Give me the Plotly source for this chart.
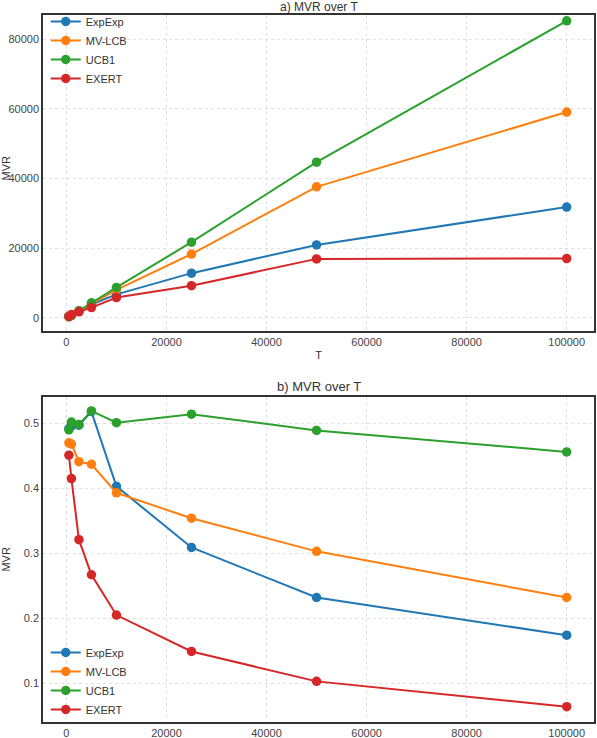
import plotly.graph_objects as go

T = [500, 1000, 2500, 5000, 10000, 25000, 50000, 100000]
methods = ["ExpExp", "MV-LCB", "UCB1", "EXERT"]
colors = ["#1f77b4", "#ff7f0e", "#2ca02c", "#d62728"]

cum_expexp = [300, 600, 1900, 3800, 6700, 12800, 20900, 31800]
cum_mvlcb = [300, 600, 1900, 3900, 8000, 18300, 37600, 59100]
cum_ucb1 = [300, 650, 2000, 4300, 8700, 21700, 44700, 85300]
cum_exert = [400, 900, 1700, 2900, 5800, 9200, 16900, 17000]

mvr_expexp = [0.492, 0.496, 0.497, 0.518, 0.403, 0.309, 0.232, 0.174]
mvr_mvlcb = [0.470, 0.468, 0.441, 0.437, 0.393, 0.354, 0.303, 0.232]
mvr_ucb1 = [0.490, 0.502, 0.498, 0.519, 0.501, 0.514, 0.489, 0.456]
mvr_exert = [0.451, 0.415, 0.321, 0.267, 0.205, 0.149, 0.103, 0.064]

x_ticks = [0, 20000, 40000, 60000, 80000, 100000]
top_yticks = [0, 20000, 40000, 60000, 80000]
bot_yticks = [0.1, 0.2, 0.3, 0.4, 0.5]

W, H = 597, 738
FONT = "Liberation Sans, Arial, sans-serif"
fig = go.Figure()

top = [cum_expexp, cum_mvlcb, cum_ucb1, cum_exert]
bot = [mvr_expexp, mvr_mvlcb, mvr_ucb1, mvr_exert]
for name, col, ys in zip(methods, colors, top):
    fig.add_trace(go.Scatter(x=T, y=ys, name=name, mode="lines+markers",
                             line=dict(color=col, width=2),
                             marker=dict(color=col, size=9.5),
                             xaxis="x", yaxis="y", legend="legend"))
for name, col, ys in zip(methods, colors, bot):
    fig.add_trace(go.Scatter(x=T, y=ys, name=name, mode="lines+markers",
                             line=dict(color=col, width=2),
                             marker=dict(color=col, size=9.5),
                             xaxis="x2", yaxis="y2", legend="legend2"))

axis_common = dict(showline=True, mirror=True, linecolor="#333333", linewidth=1.6,
                   showgrid=True, gridcolor="#e0e0e0", griddash="dot", gridwidth=0.8,
                   zeroline=False, ticks="", automargin=False,
                   tickfont=dict(family=FONT, size=11, color="#444444"))

L, R, Tm, B = 43, 3, 0, 0
ph = H - Tm - B

def ydom(top_px, bot_px):
    return [(H - bot_px) / ph, (H - top_px) / ph]

def py(px):
    return (H - px) / ph

fig.update_layout(
    width=W, height=H,
    margin=dict(l=L, r=R, t=Tm, b=B),
    paper_bgcolor="white", plot_bgcolor="white",
    font=dict(family=FONT, color="#333333"),
    xaxis=dict(axis_common, domain=[0, 1], range=[-4680, 105460], tickvals=x_ticks,
               tickformat="d", anchor="y",
               title=dict(text="T", font=dict(size=11, color="#333333"), standoff=4)),
    yaxis=dict(axis_common, domain=ydom(15, 331), range=[-3822, 86984], tickvals=top_yticks,
               tickformat="d", anchor="x"),
    xaxis2=dict(axis_common, domain=[0, 1], range=[-4680, 105460], tickvals=x_ticks,
                tickformat="d", anchor="y2"),
    yaxis2=dict(axis_common, domain=ydom(396.7, 722), range=[0.0405, 0.5409], tickvals=bot_yticks,
                tickformat=".1f", anchor="x2",
                title=dict(text="MVR", font=dict(size=11, color="#333333"), standoff=12)),
    legend=dict(x=0.005, y=py(7), xanchor="left", yanchor="top", bgcolor="rgba(0,0,0,0)",
                font=dict(family=FONT, size=11, color="#333333"), tracegroupgap=0,
                itemwidth=30),
    legend2=dict(x=0.005, y=py(724), xanchor="left", yanchor="bottom", bgcolor="rgba(0,0,0,0)",
                 font=dict(family=FONT, size=11, color="#333333"), tracegroupgap=0,
                 itemwidth=30),
    annotations=[
        dict(text="b) MVR over T", x=0.5, xref="paper", y=py(386), yref="paper",
             showarrow=False, font=dict(family=FONT, size=13, color="#333333"),
             xanchor="center", yanchor="middle"),
        dict(text="a) MVR over T", x=0.5, xref="paper", y=py(7), yref="paper",
             showarrow=False, font=dict(family=FONT, size=12, color="#333333"),
             xanchor="center", yanchor="middle"),
        dict(text="MVR", x=0, xref="paper", xshift=-L + 5.5, y=py(168), yref="paper",
             showarrow=False, textangle=-90, font=dict(family=FONT, size=11, color="#333333"),
             xanchor="center", yanchor="middle"),
    ],
)

fig.write_html("out.html")
